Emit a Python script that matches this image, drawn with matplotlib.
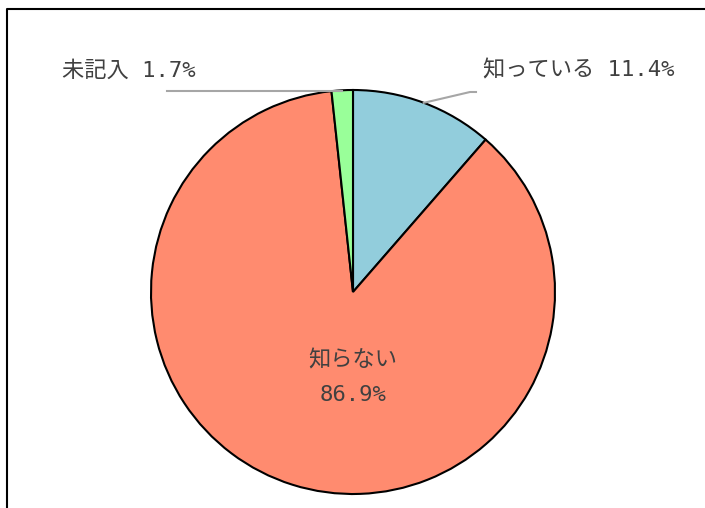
import numpy as np
import matplotlib
matplotlib.use('Agg')
import matplotlib.pyplot as plt

plt.rcParams['font.family'] = ['DejaVu Sans Mono', 'Noto Sans CJK JP']

labels = ['知っている', '知らない', '未記入']
values = [11.4, 86.9, 1.7]
colors = ['#92CDDC', '#FF8B6F', '#99FF99']

W, H = 705, 508
fig = plt.figure(figsize=(W / 100, H / 100), dpi=100)
ax = fig.add_axes([0, 0, 1, 1])

cx, cy, r = 353, H - 292, 202
wedges, _ = ax.pie(values, colors=colors, startangle=90, counterclock=False,
                   center=(cx, cy), radius=r, frame=True,
                   wedgeprops=dict(edgecolor='black', linewidth=1.5))
ax.set_xlim(0, W)
ax.set_ylim(0, H)
ax.axis('off')

txt = '#404040'
fs = 16
# outer frame
ax.plot([7, 7, W + 5], [-5, H - 9, H - 9], color='black', lw=1.5, clip_on=False)

# 知っている
w = wedges[0]
a = np.deg2rad((w.theta1 + w.theta2) / 2)
px, py = cx + r * np.cos(a), cy + r * np.sin(a)
ax.plot([px, 470, 476], [py, H - 92, H - 92], color='#A6A6A6', lw=1.5)
ax.text(483, H - 70, '%s %.1f%%' % (labels[0], values[0]), fontsize=fs,
        color=txt, ha='left', va='center')

# 未記入
w = wedges[2]
a = np.deg2rad((w.theta1 + w.theta2) / 2)
px, py = cx + r * np.cos(a), cy + r * np.sin(a)
ax.plot([167, px], [H - 91, H - 91], color='#A6A6A6', lw=1.5)
ax.text(62, H - 70, '%s %.1f%%' % (labels[2], values[2]), fontsize=fs,
        color=txt, ha='left', va='center')

# 知らない
ax.text(cx, H - 360, labels[1], fontsize=fs, color=txt, ha='center', va='center')
ax.text(cx, H - 395, '%.1f%%' % values[1], fontsize=fs, color=txt,
        ha='center', va='center')

fig.savefig('out.png', dpi=100)
